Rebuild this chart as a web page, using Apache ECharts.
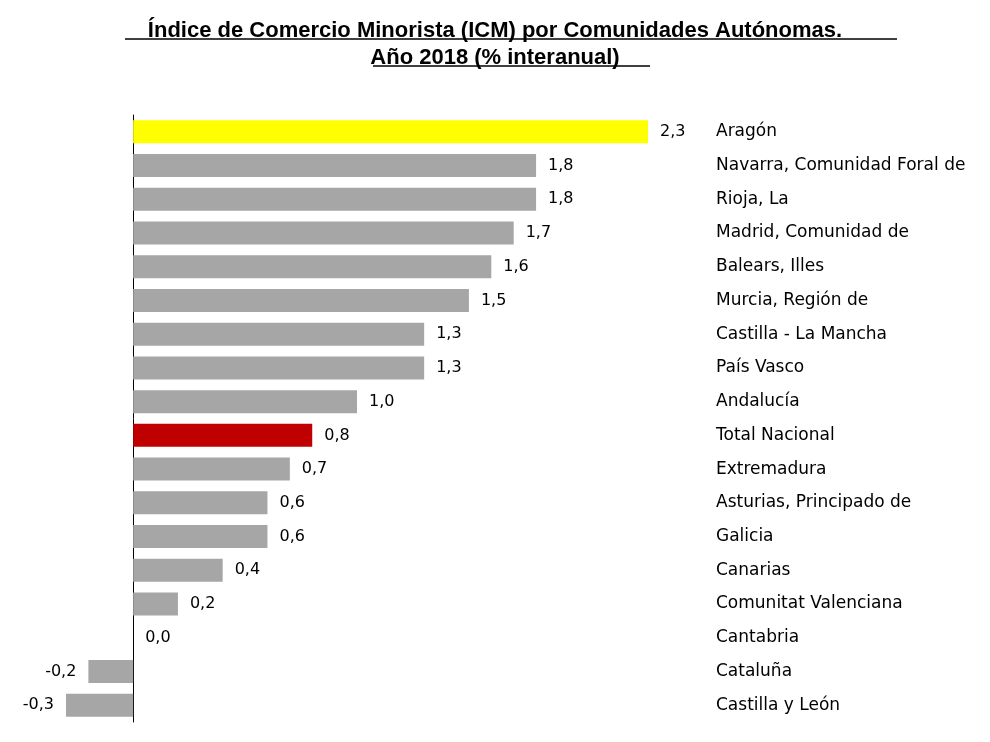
<!DOCTYPE html>
<html lang="es">
<head>
<meta charset="UTF-8">
<title>ICM por Comunidades Autónomas</title>
<script src="https://cdn.jsdelivr.net/npm/echarts@6/dist/echarts.min.js"></script>
<style>body{margin:0;background:#fff}</style>
</head>
<body>
<div id="chartmain" style="width:990px;height:742px;"></div>
<script>
var regiones = ['Aragón','Navarra, Comunidad Foral de','Rioja, La','Madrid, Comunidad de','Balears, Illes',
  'Murcia, Región de','Castilla - La Mancha','País Vasco','Andalucía','Total Nacional','Extremadura',
  'Asturias, Principado de','Galicia','Canarias','Comunitat Valenciana','Cantabria','Cataluña','Castilla y León'];
var valores = [2.3,1.8,1.8,1.7,1.6,1.5,1.3,1.3,1.0,0.8,0.7,0.6,0.6,0.4,0.2,0.0,-0.2,-0.3];

var datos = valores.map(function (v, i) {
  var color = '#a6a6a6';
  if (regiones[i] === 'Aragón') color = '#ffff00';
  if (regiones[i] === 'Total Nacional') color = '#c00000';
  return {value: v, itemStyle: {color: color},
    label: {position: v < 0 ? 'left' : 'right'}};
});

var myChart = echarts.init(document.getElementById('chartmain'));
myChart.setOption({
  animation: false,
  title: {
    text: 'Índice de Comercio Minorista (ICM) por Comunidades Autónomas.\nAño 2018 (% interanual)',
    left: 'center', top: 12,
    textStyle: {fontFamily: 'Liberation Sans', fontSize: 22, fontWeight: 'bold', color: '#000', lineHeight: 27}
  },
  graphic: [
    {type: 'line', shape: {x1: 125, y1: 39, x2: 897, y2: 39}, style: {stroke: '#000', lineWidth: 1.5}},
    {type: 'line', shape: {x1: 373, y1: 66, x2: 650, y2: 66}, style: {stroke: '#000', lineWidth: 1.5}}
  ],
  grid: {left: 66, right: 342, top: 115, bottom: 20},
  xAxis: {type: 'value', min: -0.3, max: 2.3, show: false},
  yAxis: [
    {type: 'category', data: regiones, inverse: true,
      axisLine: {onZero: true, lineStyle: {color: '#000'}}, axisTick: {show: false}, axisLabel: {show: false}},
    {type: 'category', data: regiones, inverse: true, position: 'right',
      axisLine: {show: false}, axisTick: {show: false},
      axisLabel: {margin: 68, align: 'left', fontFamily: 'DejaVu Sans', fontSize: 17, color: '#000'}}
  ],
  series: [{
    type: 'bar', data: datos, barWidth: 23, yAxisIndex: 0,
    label: {show: true, distance: 12, fontFamily: 'DejaVu Sans', fontSize: 16, color: '#000',
      formatter: function (p) { return p.value.toFixed(1).replace('.', ','); }}
  }]
});
</script>
</body>
</html>
